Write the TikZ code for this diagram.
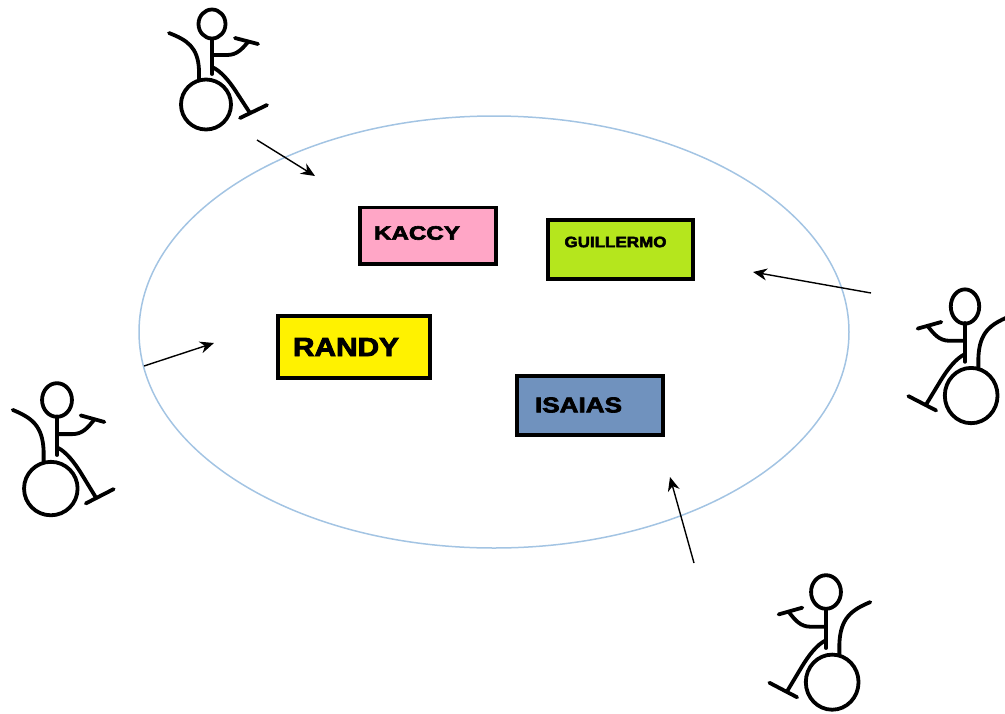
\documentclass[tikz,border=0pt]{standalone}
\usepackage{fontspec}
\setmainfont{Liberation Sans}
\newfontfamily\heavyfont[FakeBold=3]{Liberation Sans Bold}
\usetikzlibrary{shapes.geometric,arrows.meta}
\definecolor{ringblue}{HTML}{A3C4E3}
\definecolor{kaccypink}{HTML}{FFA6C6}
\definecolor{guilgreen}{HTML}{B5E61D}
\definecolor{randyyellow}{HTML}{FFF200}
\definecolor{isaiasblue}{HTML}{7092BE}
\newcommand{\fittext}[3]{\resizebox{#1pt}{#2pt}{\heavyfont #3}}
\tikzset{
  namebox/.style={draw=black,rectangle,inner sep=0pt,outer sep=0pt},
  nametext/.style={anchor=west,inner sep=0pt,outer sep=0pt,text=black},
  ring/.style={draw=ringblue,ellipse,line width=1.5pt,inner sep=0pt,outer sep=0pt,
    minimum width=710pt,minimum height=432pt},
  pointer/.style={draw=black,line width=1.4pt,-{Stealth[length=14pt,width=12pt]}},
  riderline/.style={draw=black,line width=3.8pt,line cap=round,line join=round},
  pics/rider/.style n args={4}{code={
    \draw[riderline] (0,0) ellipse ({#1pt} and {#2pt});
    \draw[riderline] (-6,80.5) ellipse ({#3pt} and {#4pt});
    \draw[riderline] (0,15) -- (0,50);
    \draw[riderline] (-43,9) .. controls (-25,16) and (-14,23) .. (-13,46) -- (-13,56);
    \draw[riderline] (0,43) .. controls (9,47) and (17,57) .. (23,66) -- (38,89);
    \draw[riderline] (28,94) -- (55,81);
    \draw[riderline] (0,31) -- (15,31) .. controls (25,31) and (30,25) .. (36,18);
    \draw[riderline] (23,14) -- (46,20);
  }}
}
\begin{document}
\begin{tikzpicture}[x=1pt,y=-1pt]
\useasboundingbox (0,0) rectangle (1005,713);
\node[ring] (circle) at (494,332) {};

\node[namebox,fill=kaccypink,line width=3.2pt,minimum width=136pt,minimum height=56.5pt] (kaccy) at (428,235.7) {};
\node[namebox,fill=guilgreen,line width=3.8pt,minimum width=145pt,minimum height=59pt] (guillermo) at (620.5,249.5) {};
\node[namebox,fill=randyyellow,line width=3.8pt,minimum width=152pt,minimum height=62pt] (randy) at (354,347.2) {};
\node[namebox,fill=isaiasblue,line width=3.8pt,minimum width=146pt,minimum height=59pt] (isaias) at (590,405.5) {};

\node[nametext] (kaccyt) at (374,233) {\fittext{86}{13.5}{KACCY}};
\node[nametext] (guillermot) at (564.5,242) {\fittext{102}{10.5}{GUILLERMO}};
\node[nametext] (randyt) at (293,347) {\fittext{106}{18}{RANDY}};
\node[nametext] (isaiast) at (535,405) {\fittext{87}{15}{ISAIAS}};

\pic (riderTop) at (212,24) {rider={13.5}{14.5}{25}{25}};
\pic[xscale=1.03,yscale=1.1] (riderLeft) at (57,400) {rider={14.5}{15.3}{26}{24.3}};
\pic[xscale=-1.03,yscale=1.106] (riderRight) at (965,306.5) {rider={13.8}{15.5}{25.6}{25}};
\pic[xscale=-1.03,yscale=1.12] (riderBottom) at (826,592) {rider={14.5}{15}{25.6}{24.6}};

\coordinate (fromTop) at (257,140);
\coordinate (toTop) at (315,176);
\coordinate (fromLeft) at (144,366);
\coordinate (toLeft) at (214,343);
\coordinate (fromRight) at (871,293);
\coordinate (toRight) at (753,272);
\coordinate (fromBottom) at (694,563);
\coordinate (toBottom) at (670,477);
\draw[pointer] (fromTop) -- (toTop);
\draw[pointer] (fromLeft) -- (toLeft);
\draw[pointer] (fromRight) -- (toRight);
\draw[pointer] (fromBottom) -- (toBottom);
\end{tikzpicture}
\end{document}
